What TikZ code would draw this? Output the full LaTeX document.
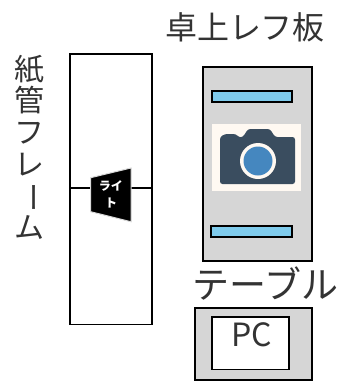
\documentclass[tikz,border=0pt]{standalone}
\usepackage{fontspec}
\setmainfont{Noto Sans CJK JP}
\definecolor{tablegray}{HTML}{D6D6D6}
\definecolor{barblue}{HTML}{7FCBEC}
\definecolor{cambg}{HTML}{FFF9F2}
\definecolor{cambody}{HTML}{3A4D5F}
\definecolor{lensblue}{HTML}{4587BF}
\definecolor{txt}{HTML}{333333}
\tikzset{
  box/.style={draw=black,line width=1.6pt},
  barbox/.style={draw=black,line width=2pt,fill=barblue},
  lab/.style={inner sep=0pt,text=txt,font=\fontsize{#1}{#1}\selectfont},
  lab/.default=24pt
}
\begin{document}
\begin{tikzpicture}[x=1pt,y=-1pt]
\useasboundingbox (0,0) rectangle (344,381);
% paper tube frame
\draw[box] (69.7,54) rectangle (152,324.5);
\coordinate (ml) at (69.7,188);
\coordinate (mr) at (152,188);
\draw[black,line width=1.2pt] (ml) -- (mr);
\draw[fill=black,draw=black!15,line width=1pt] (90.7,177.7) -- (131,168) -- (131,221.7) -- (90.7,211.7) -- cycle;
\node[white,inner sep=0pt,align=center,font=\fontsize{12}{17}\selectfont\bfseries] (light) at (111,194) {ライ\\ト};
% vertical label
\node[lab=30pt] (v1) at (29,69) {紙};
\node[lab=30pt] (v2) at (29,100) {管};
\node[lab=30pt] (v3) at (29,133) {フ};
\node[lab=30pt] (v4) at (29,165) {レ};
\node[lab=30pt,rotate=-90] (v5) at (29,197) {ー};
\node[lab=30pt] (v6) at (29,228) {ム};
% desk reflector
\node[lab=32pt] (title) at (245,27) {卓上レフ板};
\draw[box,fill=tablegray] (203,67) rectangle (311.7,261);
\draw[barbox] (212.3,91.3) rectangle (292.3,101.7);
\draw[barbox] (210.7,226) rectangle (292.3,236.7);
% camera
\fill[cambg] (212,124) rectangle (301,190.7);
\fill[cambody,rounded corners=2.5pt] (220,184) -- (220,137) -- (225,134) -- (236,134) -- (239,137.5) -- (243,137) -- (248,129) -- (270,129) -- (275,137) -- (295,137) -- (295,184) -- cycle;
\fill[cambg] (258,161) circle (18);
\fill[lensblue] (258,161) circle (14.5);
% table
\node[lab=37pt] (table) at (265.5,284) {テーブル};
\draw[box,fill=tablegray] (195,308) rectangle (311.7,380);
\draw[box,fill=white] (211.7,316.7) rectangle (289,369.3);
\node[lab=32pt] (pc) at (251.5,335) {PC};
\end{tikzpicture}
\end{document}
